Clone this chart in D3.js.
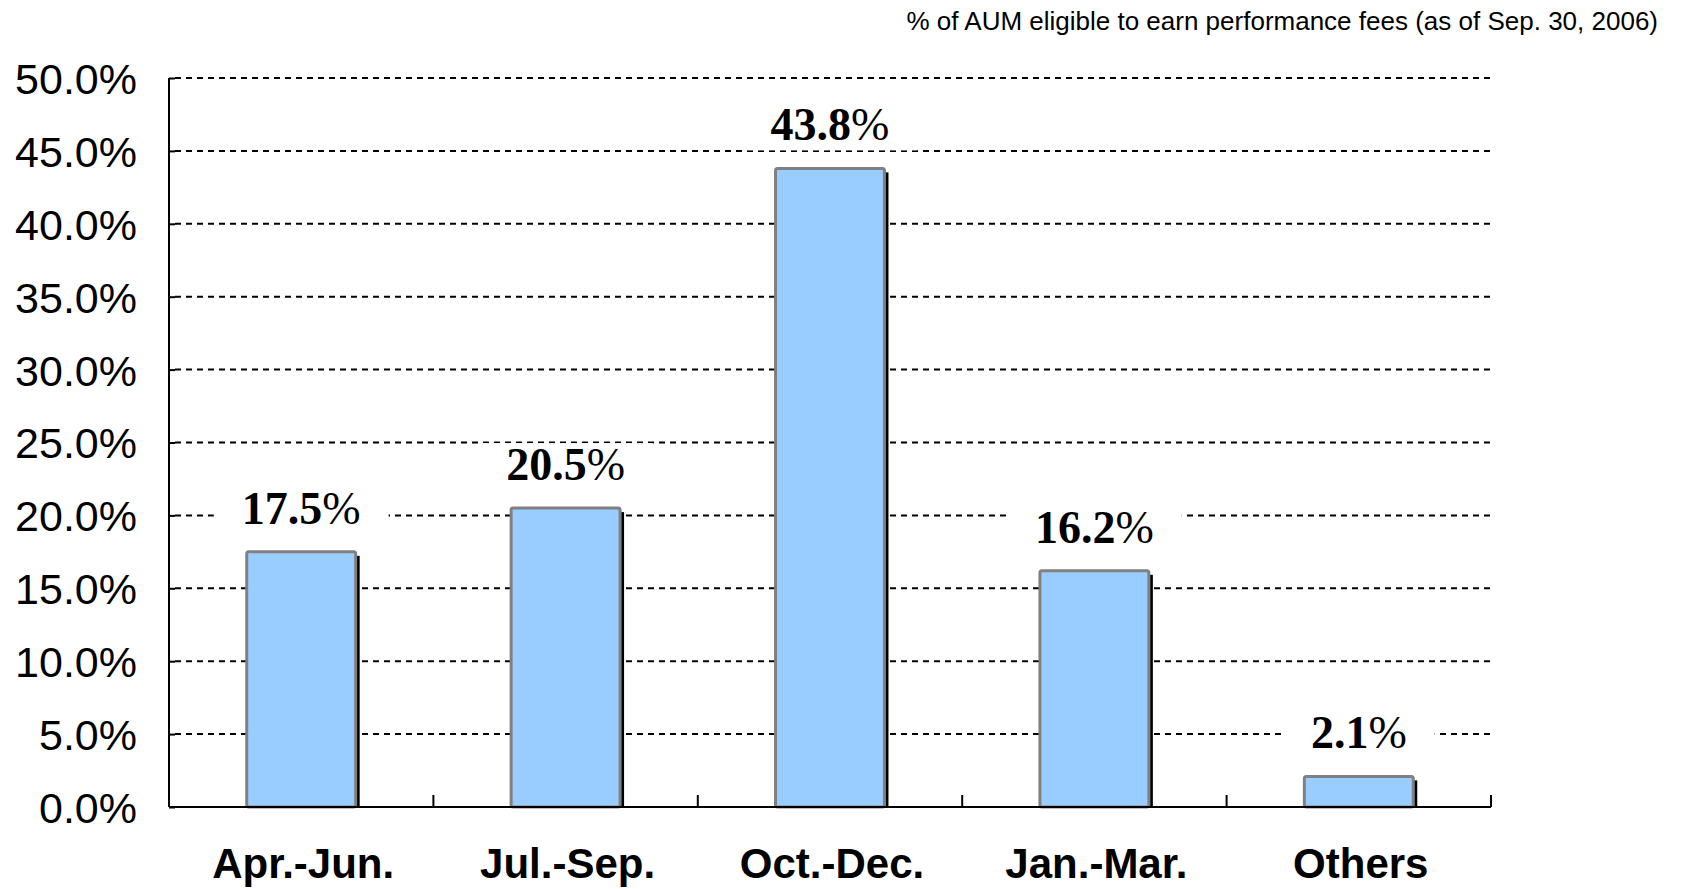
<!DOCTYPE html>
<html>
<head>
<meta charset="utf-8">
<script src="https://cdn.jsdelivr.net/npm/d3@7"></script>
<style>
    html, body { margin: 0; padding: 0; background: #fff; }
    svg { display: block; }
</style>
</head>
<body>
<div id="chart"></div>
<script>
// Chart data
const categories = ['Apr.-Jun.', 'Jul.-Sep.', 'Oct.-Dec.', 'Jan.-Mar.', 'Others'];
const shares = [17.5, 20.5, 43.8, 16.2, 2.1];
const yTicks = [0, 5, 10, 15, 20, 25, 30, 35, 40, 45, 50];
const titleText = '% of AUM eligible to earn performance fees (as of Sep. 30, 2006)';

const width = 1691;
const height = 889;
const margin = { top: 78, right: 200, bottom: 82, left: 169 };

const sans = '"Liberation Sans", Arial, sans-serif';
const serif = '"Liberation Serif", "Times New Roman", serif';

const svg = d3.select('#chart')
    .append('svg')
    .attr('width', width)
    .attr('height', height);

// Scales
const x = d3.scaleBand()
    .domain(categories)
    .range([margin.left, width - margin.right])
    .paddingInner(0.588)
    .paddingOuter(0.294);

const y = d3.scaleLinear()
    .domain([0, 50])
    .range([height - margin.bottom, margin.top]);

const x0 = x.range()[0];
const x1 = x.range()[1];

// Dashed gridlines
svg.append('g')
    .selectAll('line')
    .data(yTicks.filter(d => d > 0))
    .enter()
    .append('line')
    .attr('x1', x0 + 6)
    .attr('x2', x1)
    .attr('y1', d => y(d))
    .attr('y2', d => y(d))
    .attr('stroke', '#000')
    .attr('stroke-width', 2)
    .attr('stroke-dasharray', '6,5');

// Group for white boxes behind value labels (they break the gridlines)
const labelBg = svg.append('g');

// Bars: black drop shadow on the right, then the light blue bar with a grey edge
const bars = svg.append('g')
    .selectAll('g')
    .data(shares)
    .enter()
    .append('g');

bars.append('rect')
    .attr('x', (d, i) => x(categories[i]) + 4)
    .attr('y', d => y(d) + 4)
    .attr('width', x.bandwidth())
    .attr('height', d => Math.max(0, y(0) - y(d) - 4))
    .attr('fill', '#000');

bars.append('rect')
    .attr('x', (d, i) => x(categories[i]))
    .attr('y', d => y(d))
    .attr('width', x.bandwidth())
    .attr('height', d => y(0) - y(d))
    .attr('rx', 2)
    .attr('fill', '#99ccff')
    .attr('stroke', '#808080')
    .attr('stroke-width', 3)
    .attr('stroke-linejoin', 'round');

// Y axis
const yAxis = svg.append('g')
    .attr('transform', `translate(${x0},0)`)
    .call(d3.axisLeft(y)
        .tickValues(yTicks)
        .tickSize(-6)
        .tickPadding(32)
        .tickFormat(d => d.toFixed(1) + '%'));

yAxis.select('.domain')
    .attr('stroke', '#000')
    .attr('stroke-width', 2)
    .attr('d', `M0,${y(50)}V${y(0)}`);
yAxis.selectAll('.tick line').attr('stroke', '#000').attr('stroke-width', 2);
yAxis.selectAll('.tick text')
    .attr('fill', '#000')
    .style('font-family', sans)
    .style('font-size', '43px')
    .attr('dy', '0.36em');

// X axis: baseline with ticks on the category boundaries
const xAxis = svg.append('g');
xAxis.append('line')
    .attr('x1', x0)
    .attr('x2', x1)
    .attr('y1', y(0))
    .attr('y2', y(0))
    .attr('stroke', '#000')
    .attr('stroke-width', 2);

xAxis.selectAll('.boundary')
    .data(d3.range(1, categories.length + 1))
    .enter()
    .append('line')
    .attr('x1', i => x0 + i * x.step())
    .attr('x2', i => x0 + i * x.step())
    .attr('y1', y(0))
    .attr('y2', y(0) - 12)
    .attr('stroke', '#000')
    .attr('stroke-width', 2);

xAxis.selectAll('.cat')
    .data(categories)
    .enter()
    .append('text')
    .attr('x', d => x(d) + x.bandwidth() / 2 + 2)
    .attr('y', y(0) + 71)
    .attr('text-anchor', 'middle')
    .style('font-family', sans)
    .style('font-size', '42px')
    .style('font-weight', 'bold')
    .text(d => d);

// Value labels above bars
const labels = svg.append('g')
    .selectAll('text')
    .data(shares)
    .enter()
    .append('text')
    .attr('x', (d, i) => x(categories[i]) + x.bandwidth() / 2)
    .attr('y', d => y(d) - 28)
    .attr('text-anchor', 'middle')
    .style('font-family', serif)
    .style('font-size', '46px');

labels.append('tspan')
    .style('font-weight', 'bold')
    .text(d => d.toFixed(1));
labels.append('tspan')
    .text('%');

labels.each(function () {
    const b = this.getBBox();
    labelBg.append('rect')
        .attr('x', b.x - 28)
        .attr('y', b.y + 4)
        .attr('width', b.width + 56)
        .attr('height', b.height - 4)
        .attr('fill', '#fff');
});

// Note in the top right corner
svg.append('text')
    .attr('x', 1658)
    .attr('y', 30)
    .attr('text-anchor', 'end')
    .style('font-family', sans)
    .style('font-size', '26px')
    .text(titleText);
</script>
</body>
</html>
